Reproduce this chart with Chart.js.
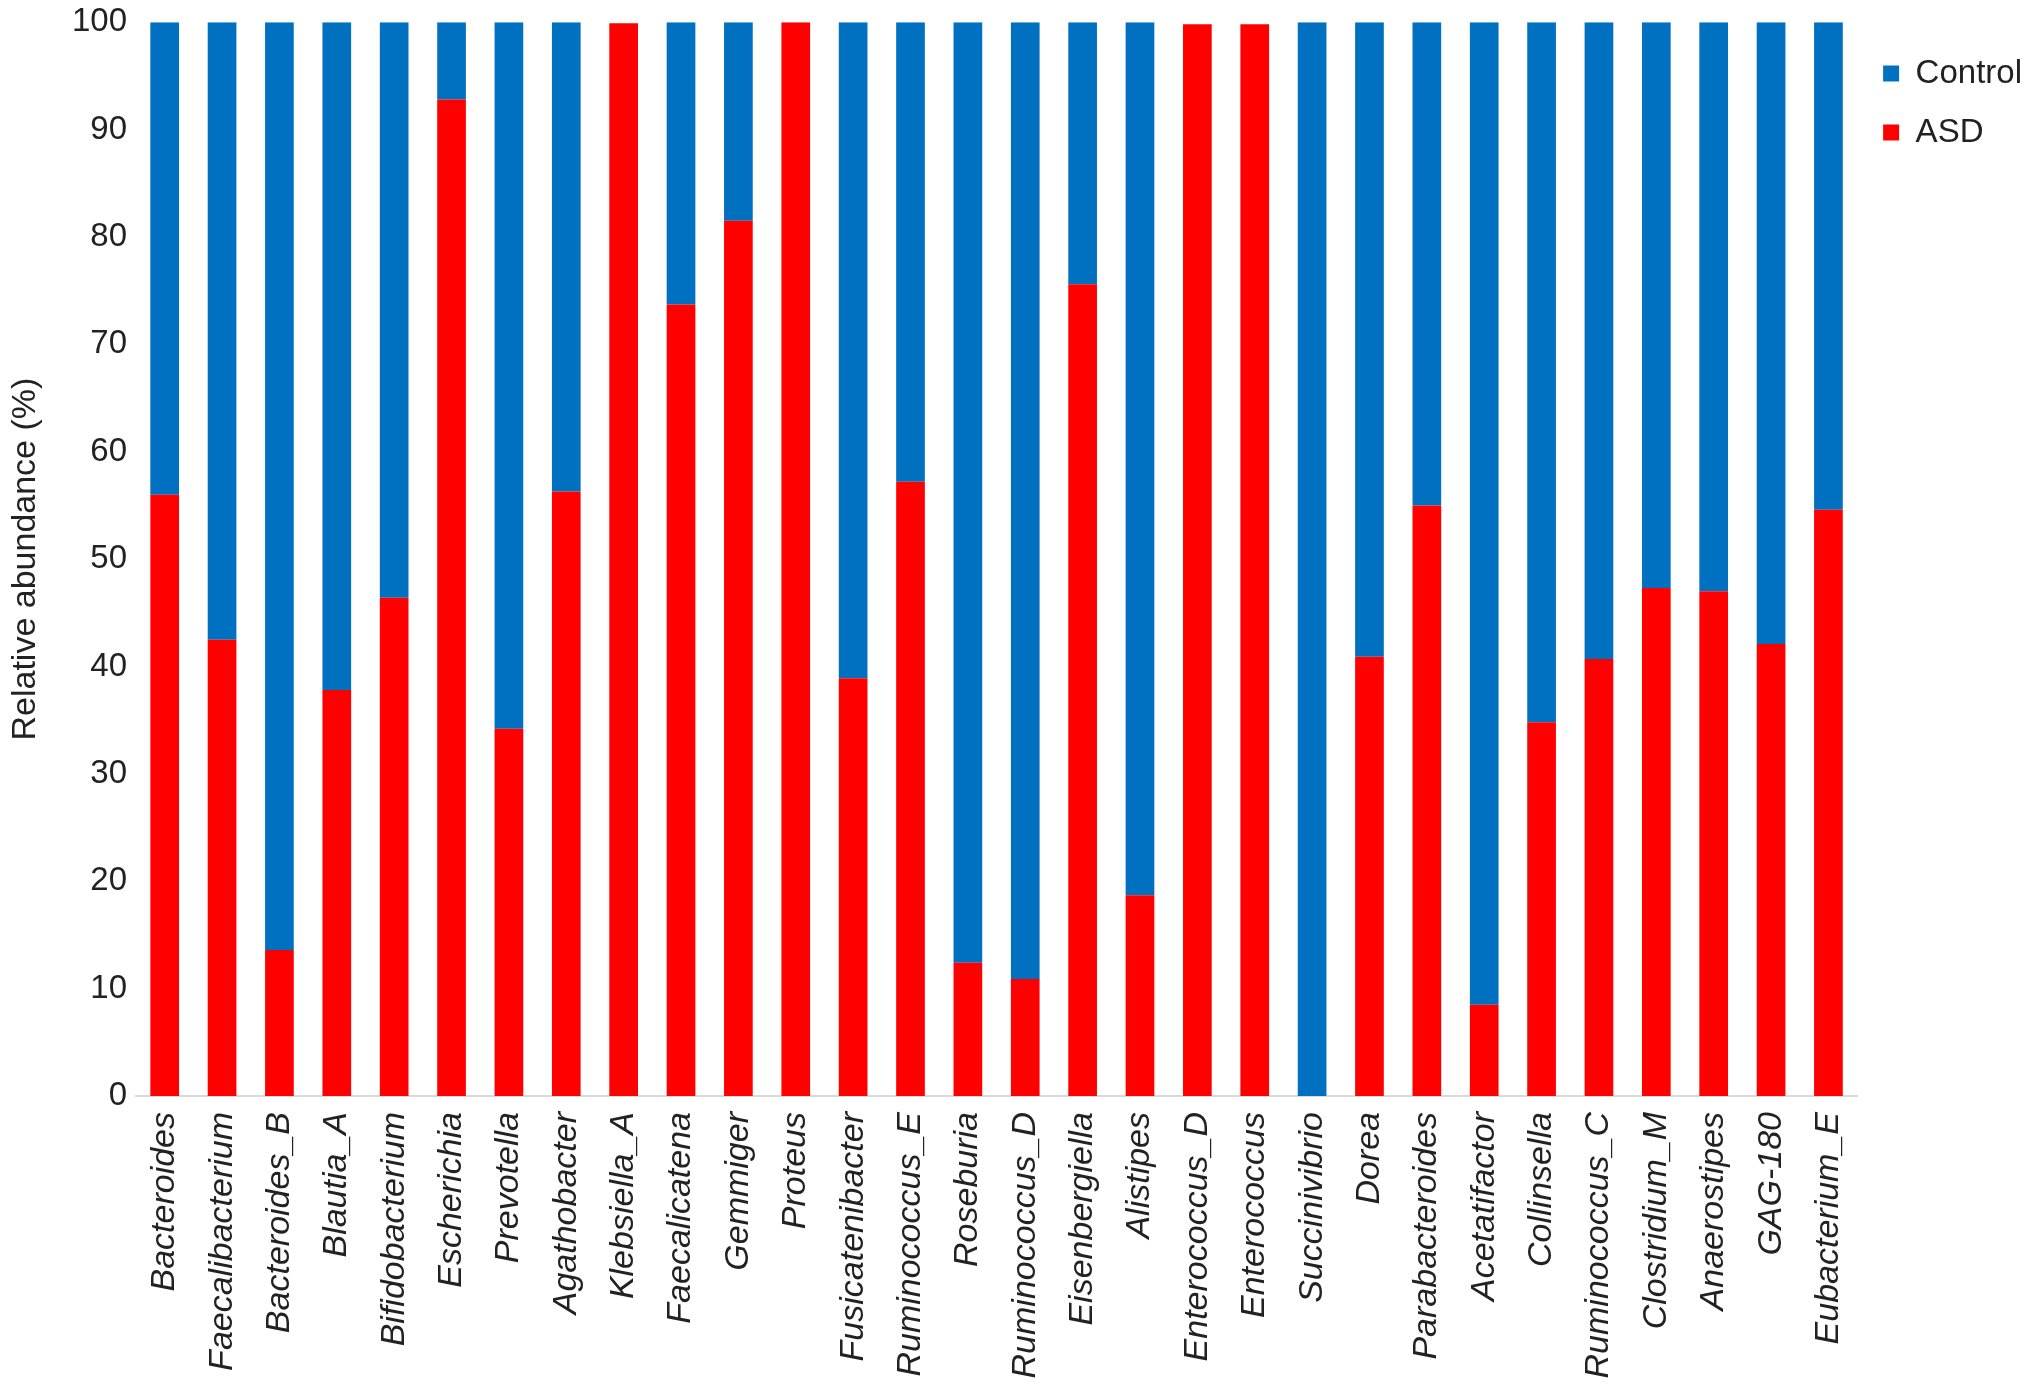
<!DOCTYPE html>
<html>
<head>
<meta charset="utf-8">
<script src="https://cdn.jsdelivr.net/npm/chart.js@4"></script>
<style>
  html, body { margin: 0; padding: 0; background: #fff; }
  #wrap { width: 2032px; height: 1392px; }
</style>
</head>
<body>
<div id="wrap"><canvas id="abundanceChart" width="2032" height="1392"></canvas></div>
<script>
// genera on the x axis
const genera = [
    "Bacteroides", "Faecalibacterium", "Bacteroides_B", "Blautia_A", "Bifidobacterium",
    "Escherichia", "Prevotella", "Agathobacter", "Klebsiella_A", "Faecalicatena",
    "Gemmiger", "Proteus", "Fusicatenibacter", "Ruminococcus_E", "Roseburia",
    "Ruminococcus_D", "Eisenbergiella", "Alistipes", "Enterococcus_D", "Enterococcus",
    "Succinivibrio", "Dorea", "Parabacteroides", "Acetatifactor", "Collinsella",
    "Ruminococcus_C", "Clostridium_M", "Anaerostipes", "GAG-180", "Eubacterium_E"
];

// relative abundance (%)
const asdValues = [
    56.0, 42.5, 13.6, 37.8, 46.4,
    92.8, 34.2, 56.3, 99.9, 73.7,
    81.5, 100, 38.9, 57.2, 12.4,
    10.9, 75.6, 18.7, 99.8, 99.8,
    0, 40.9, 55.0, 8.5, 34.8,
    40.7, 47.3, 47.0, 42.1, 54.6
];

const controlValues = [
    44.0, 57.5, 86.4, 62.2, 53.6,
    7.2, 65.8, 43.7, 0, 26.3,
    18.5, 0, 61.1, 42.8, 87.6,
    89.1, 24.4, 81.3, 0, 0,
    100, 59.1, 45.0, 91.5, 65.2,
    59.3, 52.7, 53.0, 57.9, 45.4
];

const yTicks = [0, 10, 20, 30, 40, 50, 60, 70, 80, 90, 100];

const FONT = "'Liberation Sans', Arial, Helvetica, sans-serif";

const ctx = document.getElementById("abundanceChart");

const chart = new Chart(ctx, {

    type: "bar",

    data: {
        labels: genera,
        datasets: [
            {
                label: "ASD",
                data: asdValues,
                backgroundColor: "#ff0000"
            },
            {
                label: "Control",
                data: controlValues,
                backgroundColor: "#0070c0"
            }
        ]
    },

    options: {
        responsive: false,
        animation: false,
        devicePixelRatio: 1,
        layout: {
            padding: { top: 0, right: 0, left: 0, bottom: 0 }
        },
        datasets: {
            bar: {
                categoryPercentage: 1.0,
                barPercentage: 0.5
            }
        },
        plugins: {
            tooltip: { enabled: false },
            legend: {
                position: "right",
                align: "start",
                reverse: true,
                // empty title only pushes the items down
                title: {
                    display: true,
                    text: "",
                    font: { size: 10 },
                    padding: { top: 19, bottom: 0 }
                },
                labels: {
                    boxWidth: 16,
                    boxHeight: 16,
                    padding: 26,
                    color: "#222",
                    font: { family: FONT, size: 33 }
                }
            }
        },
        scales: {
            x: {
                stacked: true,
                grid: { display: false, drawTicks: false },
                border: { display: true, color: "#d9d9d9", width: 2 },
                afterFit: (scale) => {
                    scale.height = 296;
                },
                ticks: {
                    minRotation: 90,
                    maxRotation: 90,
                    autoSkip: false,
                    padding: 16,
                    color: "#222",
                    font: { family: FONT, size: 34, style: "italic" }
                }
            },
            y: {
                stacked: true,
                min: 0,
                max: 100,
                grid: { display: false, drawTicks: false },
                border: { display: false },
                afterBuildTicks: (scale) => {
                    scale.ticks = yTicks.map(v => ({ value: v }));
                },
                afterFit: (scale) => {
                    scale.width = 136;
                },
                ticks: {
                    padding: 9,
                    color: "#222",
                    font: { family: FONT, size: 33, lineHeight: 0.8 }
                },
                title: {
                    display: true,
                    text: "Relative abundance (%)",
                    color: "#222",
                    padding: { top: 5, bottom: 0 },
                    font: { family: FONT, size: 34 }
                }
            }
        }
    }
});
</script>
</body>
</html>
